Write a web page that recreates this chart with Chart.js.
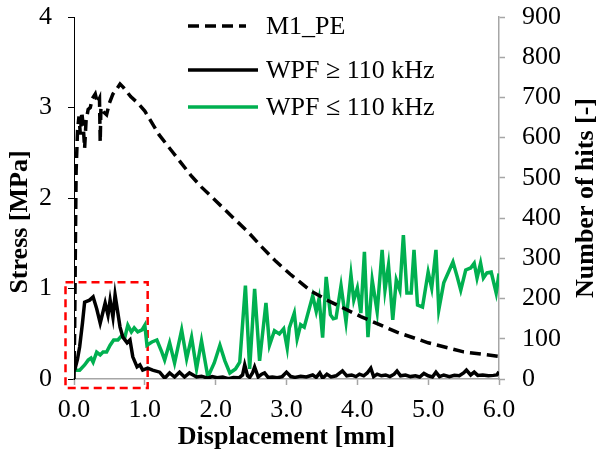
<!DOCTYPE html>
<html>
<head>
<meta charset="utf-8">
<script src="https://cdn.jsdelivr.net/npm/chart.js@4.4.0/dist/chart.umd.min.js"></script>
<style>
  html, body { margin: 0; padding: 0; background: #fff; }
</style>
</head>
<body>
<canvas id="chart" width="598" height="455"></canvas>
<script>
// tick / axis text
const xTitle = 'Displacement [mm]';
const yTitle = 'Stress [MPa]';
const y1Title = 'Number of hits [-]';

// M1_PE stress curve (left axis)
const stressX = [0, 0.01, 0.02, 0.03, 0.05, 0.07, 0.09, 0.11, 0.13, 0.15,
  0.17, 0.2, 0.23, 0.26, 0.3, 0.33, 0.36, 0.37, 0.38, 0.42,
  0.46, 0.5, 0.55, 0.6, 0.65, 0.7, 0.75, 0.8, 0.9, 1.0,
  1.1, 1.2, 1.3, 1.4, 1.5, 1.65, 1.8, 2.0, 2.25, 2.45,
  2.65, 2.85, 3.05, 3.35, 3.6, 4.05, 4.55, 5.0, 5.5, 6.0];
const stressY = [0, 0.6, 1.5, 2.3, 2.75, 2.9, 2.7, 2.95, 2.8, 2.55,
  2.85, 2.98, 3.0, 3.1, 3.15, 3.05, 3.1, 2.62, 3.0, 2.95,
  2.92, 3.05, 3.15, 3.2, 3.26, 3.22, 3.17, 3.12, 3.05, 2.96,
  2.83, 2.7, 2.6, 2.5, 2.4, 2.25, 2.12, 1.97, 1.78, 1.63,
  1.46, 1.3, 1.16, 0.97, 0.86, 0.69, 0.52, 0.4, 0.3, 0.25];

// WPF >= 110 kHz hits (right axis)
const highX = [0.01, 0.05, 0.08, 0.12, 0.15, 0.22, 0.27, 0.32, 0.37, 0.44,
  0.48, 0.51, 0.55, 0.58, 0.65, 0.69, 0.75, 0.79, 0.83, 0.89,
  0.93, 0.97, 1.04, 1.11, 1.21, 1.28, 1.35, 1.42, 1.49, 1.56,
  1.63, 1.73, 1.8, 1.89, 1.95, 2.02, 2.1, 2.18, 2.25, 2.33,
  2.38, 2.41, 2.45, 2.48, 2.52, 2.55, 2.6, 2.65, 2.69, 2.74,
  2.8, 2.87, 2.94, 3.0, 3.06, 3.12, 3.2, 3.28, 3.37, 3.42,
  3.47, 3.51, 3.57, 3.63, 3.7, 3.79, 3.85, 3.92, 3.98, 4.03,
  4.09, 4.14, 4.19, 4.23, 4.28, 4.34, 4.4, 4.46, 4.52, 4.56,
  4.61, 4.68, 4.75, 4.82, 4.88, 4.94, 5.0, 5.06, 5.11, 5.16,
  5.22, 5.3, 5.37, 5.44, 5.5, 5.54, 5.6, 5.65, 5.7, 5.77,
  5.85, 5.92, 5.97, 6.0];
const highHits = [22, 50, 80, 140, 191, 196, 204, 175, 139, 189,
  159, 196, 154, 209, 129, 104, 90, 97, 55, 30,
  35, 22, 27, 22, 17, 2, 15, 5, 17, 5,
  15, 5, 7, 2, 6, 3, 5, 1, 4, 3,
  10, 35, 8, 4, 15, 30, 5, 12, 15, 4,
  5, 3, 6, 17, 6, 4, 7, 5, 10, 4,
  15, 2, 12, 5, 8, 20, 8, 10, 6, 12,
  8, 15, 27, 6, 12, 8, 10, 6, 12, 20,
  8, 10, 6, 8, 5, 14, 8, 5, 17, 6,
  10, 6, 9, 8, 15, 22, 10, 17, 9, 10,
  8, 9, 10, 18];

// WPF <= 110 kHz hits (right axis)
const lowX = [0.01, 0.08, 0.15, 0.2, 0.24, 0.27, 0.32, 0.37, 0.41, 0.46,
  0.51, 0.56, 0.62, 0.68, 0.72, 0.76, 0.81, 0.85, 0.9, 0.96,
  1.0, 1.03, 1.1, 1.17, 1.24, 1.28, 1.35, 1.42, 1.52, 1.59,
  1.66, 1.73, 1.8, 1.89, 1.98, 2.06, 2.13, 2.2, 2.28, 2.34,
  2.42, 2.48, 2.55, 2.62, 2.71, 2.76, 2.83, 2.9, 2.96, 3.01,
  3.04, 3.11, 3.15, 3.2, 3.25, 3.37, 3.42, 3.46, 3.51, 3.56,
  3.62, 3.66, 3.7, 3.77, 3.84, 3.91, 3.95, 4.0, 4.05, 4.1,
  4.15, 4.21, 4.28, 4.35, 4.39, 4.44, 4.5, 4.55, 4.6, 4.65,
  4.7, 4.76, 4.8, 4.85, 4.92, 5.0, 5.05, 5.11, 5.15, 5.22,
  5.3, 5.35, 5.41, 5.46, 5.53, 5.6, 5.65, 5.69, 5.74, 5.78,
  5.83, 5.89, 5.96, 6.0];
const lowHits = [22, 22, 35, 47, 52, 42, 67, 60, 67, 67,
  84, 97, 97, 109, 105, 134, 117, 127, 117, 122,
  134, 84, 92, 97, 67, 47, 90, 40, 122, 50,
  104, 25, 95, 5, 40, 84, 45, 15, 25, 42,
  232, 25, 224, 45, 189, 84, 120, 112, 125, 77,
  127, 164, 100, 135, 129, 207, 168, 200, 103, 254,
  160, 150, 152, 232, 142, 259, 196, 226, 164, 316,
  104, 246, 167, 321, 221, 283, 147, 246, 221, 358,
  214, 214, 321, 184, 179, 266, 226, 321, 172, 239,
  271, 291, 254, 221, 271, 276, 288, 251, 288, 251,
  264, 266, 214, 262];

// zoom box corners (displacement, stress)
const boxX = [-0.12, 1.04, 1.04, -0.12, -0.12];
const boxY = [1.07, 1.07, -0.1, -0.1, 1.07];

const xTicks = [0, 1, 2, 3, 4, 5, 6];

const toPoints = (xs, ys) => xs.map((x, i) => ({ x: x, y: ys[i] }));

const serif = '"Liberation Serif", "Times New Roman", serif';
const grey = '#a6a6a6';

const overlay = {
  id: 'overlay',
  afterDraw(chart) {
    const ctx = chart.ctx;
    const area = chart.chartArea;
    ctx.save();
    ctx.fillStyle = '#000';
    ctx.textAlign = 'center';
    ctx.textBaseline = 'middle';
    ctx.font = 'bold 26px ' + serif;
    ctx.fillText(xTitle, (area.left + area.right) / 2, 437);

    ctx.save();
    ctx.translate(20, 222);
    ctx.rotate(-Math.PI / 2);
    ctx.fillText(yTitle, 0, 0);
    ctx.restore();

    ctx.save();
    ctx.translate(586, 198);
    ctx.rotate(-Math.PI / 2);
    ctx.fillText(y1Title, 0, 0);
    ctx.restore();

    // legend
    const rows = [26, 70, 107];
    ctx.font = '26px ' + serif;
    ctx.textAlign = 'left';
    for (let i = 0; i < 3; i++) {
      const ds = chart.data.datasets[i];
      ctx.beginPath();
      ctx.strokeStyle = ds.borderColor;
      ctx.lineWidth = ds.borderWidth;
      ctx.setLineDash(ds.borderDash || []);
      ctx.moveTo(188, rows[i]);
      ctx.lineTo(i === 0 ? 246 : 258, rows[i]);
      ctx.stroke();
      ctx.setLineDash([]);
      ctx.fillText(ds.label, 266, rows[i] + 1);
    }
    ctx.restore();
  }
};

const fitVertical = (w) => (scale) => {
  scale.width = w;
  scale.paddingTop = 0;
  scale.paddingBottom = 0;
};

new Chart(document.getElementById('chart'), {
  type: 'line',
  data: {
    datasets: [
      {
        label: 'M1_PE',
        data: toPoints(stressX, stressY),
        yAxisID: 'y',
        borderColor: '#000',
        borderWidth: 3.5,
        borderDash: [11, 6],
        pointRadius: 0,
        tension: 0
      },
      {
        label: 'WPF \u2265 110 kHz',
        data: toPoints(highX, highHits),
        yAxisID: 'y1',
        borderColor: '#000',
        borderWidth: 3.5,
        pointRadius: 0,
        tension: 0
      },
      {
        label: 'WPF \u2264 110 kHz',
        data: toPoints(lowX, lowHits),
        yAxisID: 'y1',
        borderColor: '#00b050',
        borderWidth: 3.5,
        pointRadius: 0,
        tension: 0
      },
      {
        label: 'box',
        data: toPoints(boxX, boxY),
        yAxisID: 'y',
        borderColor: '#ff0000',
        borderWidth: 2.5,
        borderDash: [8, 5],
        pointRadius: 0,
        tension: 0,
        clip: false
      }
    ]
  },
  options: {
    responsive: false,
    animation: false,
    devicePixelRatio: 1,
    layout: { padding: { top: 17, left: 0, right: 0, bottom: 0 } },
    plugins: {
      legend: { display: false },
      tooltip: { enabled: false }
    },
    scales: {
      x: {
        type: 'linear',
        min: 0,
        max: 6,
        afterBuildTicks: (scale) => { scale.ticks = xTicks.map(v => ({ value: v })); },
        afterFit: (scale) => {
          scale.height = 76;
          scale.paddingLeft = 0;
          scale.paddingRight = 0;
        },
        ticks: {
          callback: (v) => v.toFixed(1),
          color: '#000',
          padding: 10,
          maxRotation: 0,
          font: { family: serif, size: 26 }
        },
        grid: { drawOnChartArea: false, drawTicks: true, tickLength: 6, tickColor: grey, tickWidth: 1.5 },
        border: { color: grey, width: 1.5 }
      },
      y: {
        position: 'left',
        min: 0,
        max: 4,
        afterFit: fitVertical(74),
        ticks: {
          stepSize: 1,
          color: '#000',
          padding: 16,
          font: { family: serif, size: 26 }
        },
        grid: { drawOnChartArea: false, drawTicks: true, tickLength: 6, tickColor: '#000', tickWidth: 1 },
        border: { color: '#000', width: 1 }
      },
      y1: {
        position: 'right',
        min: 0,
        max: 900,
        afterFit: fitVertical(99),
        ticks: {
          stepSize: 100,
          color: '#000',
          padding: 17,
          font: { family: serif, size: 26 }
        },
        grid: { drawOnChartArea: false, drawTicks: true, tickLength: 6, tickColor: grey, tickWidth: 1.5 },
        border: { color: grey, width: 1.5 }
      }
    }
  },
  plugins: [overlay]
});
</script>
</body>
</html>
